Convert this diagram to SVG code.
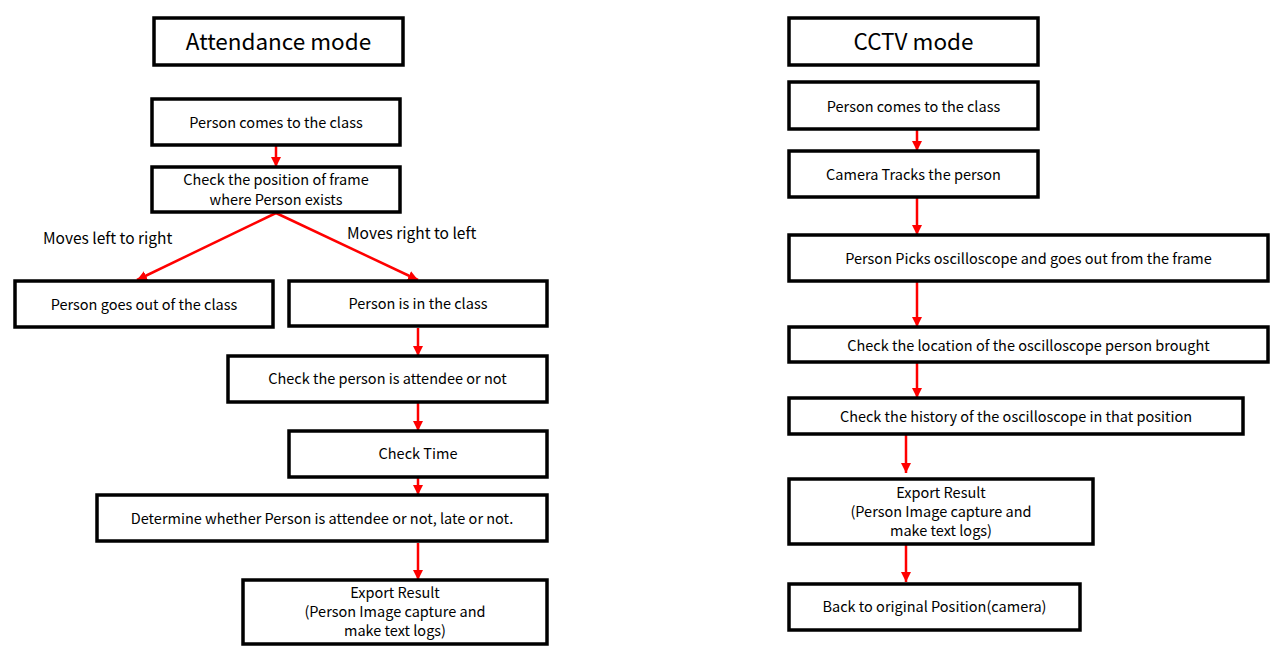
<svg xmlns="http://www.w3.org/2000/svg" width="1283" height="659" viewBox="0 0 1283 659">
<style>
.box{fill:#fff;stroke:#000;stroke-width:3.5}
.t{font-family:"Noto Sans CJK KR","Liberation Sans",sans-serif;font-size:14.5px;fill:#000;text-anchor:middle;dominant-baseline:central}
.title{font-size:22.5px}
.lab{text-anchor:start;font-size:15.5px}
.c{stroke:#f00;stroke-width:2.5;fill:none}
</style>
<defs>
<marker id="ah" viewBox="0 0 10 10" refX="10" refY="5" markerWidth="4" markerHeight="4" orient="auto" markerUnits="strokeWidth">
<path d="M0,0L10,5L0,10z" fill="#f00"/>
</marker>
</defs>
<g id="connectors">
<path class="c" d="M276,146V167" marker-end="url(#ah)"/>
<path class="c" d="M276,213L137,280" marker-end="url(#ah)"/>
<path class="c" d="M276,213L418,280" marker-end="url(#ah)"/>
<path class="c" d="M418,328V356" marker-end="url(#ah)"/>
<path class="c" d="M418,403V431" marker-end="url(#ah)"/>
<path class="c" d="M418,478V495" marker-end="url(#ah)"/>
<path class="c" d="M418,543V580" marker-end="url(#ah)"/>
<path class="c" d="M917,130V151" marker-end="url(#ah)"/>
<path class="c" d="M917,198V235" marker-end="url(#ah)"/>
<path class="c" d="M917,282V327" marker-end="url(#ah)"/>
<path class="c" d="M917,363V398" marker-end="url(#ah)"/>
<path class="c" d="M906,435V473" marker-end="url(#ah)"/>
<path class="c" d="M906,545V582" marker-end="url(#ah)"/>
<text class="t lab" x="43" y="237">Moves left to right</text>
<text class="t lab" x="347" y="232">Moves right to left</text>
</g>
<g id="title-attendance"><rect class="box" x="154" y="18" width="249" height="47"/><text class="t title" x="278.5" y="40">Attendance mode</text></g>
<g id="a1"><rect class="box" x="152" y="99" width="248" height="46"/><text class="t" x="276" y="121">Person comes to the class</text></g>
<g id="a2"><rect class="box" x="152" y="167" width="248" height="45"/><text class="t" x="276" y="178">Check the position of frame</text><text class="t" x="276" y="198">where Person exists</text></g>
<g id="a3"><rect class="box" x="15" y="281" width="258" height="46"/><text class="t" x="144" y="303">Person goes out of the class</text></g>
<g id="a4"><rect class="box" x="289" y="281" width="258" height="45"/><text class="t" x="418" y="302">Person is in the class</text></g>
<g id="a5"><rect class="box" x="228" y="356" width="319" height="46"/><text class="t" x="387.5" y="377">Check the person is attendee or not</text></g>
<g id="a6"><rect class="box" x="289" y="431" width="258" height="46"/><text class="t" x="418" y="452">Check Time</text></g>
<g id="a7"><rect class="box" x="97" y="495" width="450" height="46"/><text class="t" x="322" y="517">Determine whether Person is attendee or not, late or not.</text></g>
<g id="a8"><rect class="box" x="243" y="580" width="304" height="64"/><text class="t" x="395" y="591">Export Result</text><text class="t" x="395" y="610">(Person Image capture and</text><text class="t" x="395" y="629">make text logs)</text></g>
<g id="title-cctv"><rect class="box" x="789" y="18" width="249" height="47"/><text class="t title" x="913.5" y="40">CCTV mode</text></g>
<g id="c1"><rect class="box" x="789" y="82" width="249" height="47"/><text class="t" x="913.5" y="105">Person comes to the class</text></g>
<g id="c2"><rect class="box" x="789" y="151" width="249" height="46"/><text class="t" x="913.5" y="173">Camera Tracks the person</text></g>
<g id="c3"><rect class="box" x="789" y="235" width="479" height="46"/><text class="t" x="1028.5" y="257">Person Picks oscilloscope and goes out from the frame</text></g>
<g id="c4"><rect class="box" x="789" y="327" width="479" height="35"/><text class="t" x="1028.5" y="344">Check the location of the oscilloscope person brought</text></g>
<g id="c5"><rect class="box" x="789" y="398" width="454" height="36"/><text class="t" x="1016" y="415">Check the history of the oscilloscope in that position</text></g>
<g id="c6"><rect class="box" x="789" y="479" width="304" height="65"/><text class="t" x="941" y="491">Export Result</text><text class="t" x="941" y="510">(Person Image capture and</text><text class="t" x="941" y="529">make text logs)</text></g>
<g id="c7"><rect class="box" x="789" y="584" width="291" height="46"/><text class="t" x="934.5" y="605">Back to original Position(camera)</text></g>
</svg>
